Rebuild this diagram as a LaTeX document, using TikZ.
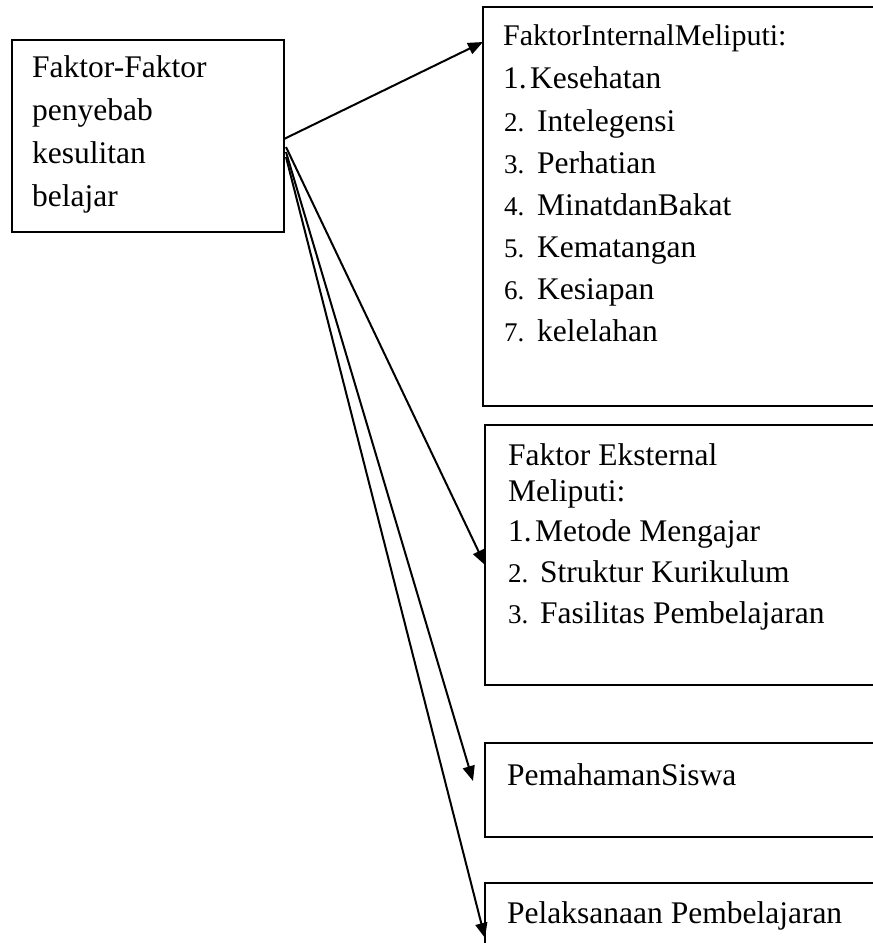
\documentclass[tikz,border=0pt]{standalone}
\usepackage{fontspec}
\setmainfont{Liberation Serif}
\usepackage{tikz}
\usetikzlibrary{arrows.meta}
\usetikzlibrary{calc}

\newcommand{\numfirst}[1]{\makebox[27pt][l]{#1}}
\newcommand{\numnext}[2]{\makebox[#1][l]{\fontsize{27}{27}\selectfont #2}}

\begin{document}
\begin{tikzpicture}[x=1pt, y=-1pt,
        box_style/.style={draw=black, line width=1.2pt, inner sep=0pt, outer sep=0pt, anchor=north west},
        text_style/.style={anchor=base west, inner sep=0pt, font=\fontsize{31.5}{42}\selectfont},
        arrow_style/.style={draw=black, line width=2pt, -{Triangle[length=15pt,width=12pt]}}]

        \useasboundingbox (0,0) rectangle (873,943);
        \clip (0,0) rectangle (873,943);

        % boxes
        \node [box_style, minimum width=272pt, minimum height=192pt](cause) at (12,40) {};
        \node [box_style, minimum width=500pt, minimum height=399pt](internal) at (483,7) {};
        \node [box_style, minimum width=500pt, minimum height=260pt](external) at (485,425) {};
        \node [box_style, minimum width=500pt, minimum height=94pt](paham) at (485,743) {};
        \node [box_style, minimum width=500pt, minimum height=100pt](laksana) at (485,883) {};

        % left box text
        \node [text_style](c1) at (32,77) {Faktor-Faktor};
        \node [text_style](c2) at (32,120) {penyebab};
        \node [text_style](c3) at (32,163) {kesulitan};
        \node [text_style](c4) at (32,206) {belajar};

        % internal factors
        \node [text_style, font=\fontsize{30}{42}\selectfont](i0) at (503,45) {FaktorInternalMeliputi:};
        \node [text_style](i1) at (503,88) {\numfirst{1.}Kesehatan};
        \node [text_style](i2) at (504,131) {\numnext{33pt}{2.}Intelegensi};
        \node [text_style](i3) at (504,173) {\numnext{33pt}{3.}Perhatian};
        \node [text_style](i4) at (504,215) {\numnext{33pt}{4.}MinatdanBakat};
        \node [text_style](i5) at (504,257) {\numnext{33pt}{5.}Kematangan};
        \node [text_style](i6) at (504,299) {\numnext{33pt}{6.}Kesiapan};
        \node [text_style](i7) at (504,341) {\numnext{33pt}{7.}kelelahan};

        % external factors
        \node [text_style](e0) at (508,465) {Faktor Eksternal};
        \node [text_style](e00) at (508,501) {Meliputi:};
        \node [text_style](e1) at (508,541) {\numfirst{1.}Metode Mengajar};
        \node [text_style](e2) at (508,582) {\numnext{32pt}{2.}Struktur Kurikulum};
        \node [text_style](e3) at (508,623) {\numnext{32pt}{3.}Fasilitas Pembelajaran};

        \node [text_style](p1) at (507,785) {PemahamanSiswa};
        \node [text_style](l1) at (507,923) {Pelaksanaan Pembelajaran};

        % arrows
        \draw [arrow_style] ([yshift=-3pt]cause.east) -- ([yshift=-35pt]internal.north west);
        \draw [arrow_style] ([xshift=2pt,yshift=-11pt]cause.east) -- ([yshift=-140pt]external.north west);
        \draw [arrow_style] ([xshift=2pt,yshift=-16pt]cause.east) -- ([xshift=-12pt,yshift=-38pt]paham.north west);
        \draw [arrow_style] ([xshift=2pt,yshift=-21pt]cause.east) -- ([yshift=-55pt]laksana.north west);
\end{tikzpicture}
\end{document}
